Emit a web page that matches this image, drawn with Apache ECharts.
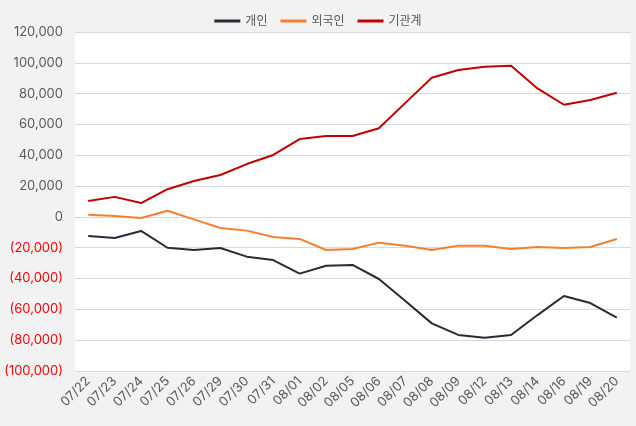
<!DOCTYPE html>
<html><head><meta charset="utf-8">
<script src="https://cdn.jsdelivr.net/npm/echarts@6/dist/echarts.min.js"></script>
<style>html,body{margin:0;padding:0;background:#f2f2f2;}#c{width:636px;height:426px;}</style>
</head><body><div id="c"></div>
<script>
var categories = ['07/22','07/23','07/24','07/25','07/26','07/29','07/30','07/31','08/01','08/02','08/05','08/06','08/07','08/08','08/09','08/12','08/13','08/14','08/16','08/19','08/20'];
var individual = [-12400,-13700,-9100,-20000,-21500,-20200,-25800,-28000,-36800,-31700,-31200,-40300,-54600,-69100,-76600,-78400,-76600,-63700,-51300,-55900,-65400];
var foreign = [1400,600,-700,4000,-1600,-7200,-8900,-13000,-14300,-21500,-20800,-16700,-18700,-21500,-18700,-18700,-20800,-19500,-20200,-19500,-14300];
var institution = [10300,13000,9000,18000,23300,27200,34300,40200,50500,52500,52500,57500,74000,90300,95300,97500,98100,83400,72800,75900,80600];
var seriesNames = ['개인','외국인','기관계'];
var yTicks = {min:-100000, max:120000, interval:20000};

var chart = echarts.init(document.getElementById('c'));
function fmt(v){
  var s = Math.abs(v).toString().replace(/\B(?=(\d{3})+(?!\d))/g, ',');
  return v < 0 ? '{neg|(' + s + ')}' : s;
}
var font = 'Inter, "Noto Sans CJK KR", sans-serif';
chart.setOption({
  backgroundColor: '#f2f2f2',
  animation: false,
  textStyle: {fontFamily: font},
  legend: {
    top: 10, left: 'center', itemWidth: 26, itemHeight: 3, itemGap: 13, icon: 'rect',
    textStyle: {color: '#595959', fontSize: 12, fontFamily: font},
    data: seriesNames
  },
  grid: {left: 75, right: 6, top: 32, bottom: 55, show: true, backgroundColor: '#ffffff', borderWidth: 0},
  xAxis: {
    type: 'category', data: categories, boundaryGap: true,
    axisLine: {show: true, lineStyle: {color: '#d9d9d9'}},
    axisTick: {show: false},
    axisLabel: {rotate: 45, color: '#595959', fontSize: 13, interval: 0, margin: 8, fontFamily: font}
  },
  yAxis: {
    type: 'value', min: yTicks.min, max: yTicks.max, interval: yTicks.interval,
    axisLine: {show: false}, axisTick: {show: false},
    splitLine: {lineStyle: {color: '#d9d9d9', width: 1}},
    axisLabel: {color: '#595959', fontSize: 13, margin: 12, formatter: fmt, fontFamily: font,
      rich: {neg: {color: '#ff0000', fontSize: 13, fontFamily: font}}}
  },
  series: [
    {name: seriesNames[0], type: 'line', data: individual, symbol: 'none', lineStyle: {width: 2, color: '#262b38'}, itemStyle: {color: '#262b38'}},
    {name: seriesNames[1], type: 'line', data: foreign, symbol: 'none', lineStyle: {width: 2, color: '#f4802e'}, itemStyle: {color: '#f4802e'}},
    {name: seriesNames[2], type: 'line', data: institution, symbol: 'none', lineStyle: {width: 2, color: '#c00000'}, itemStyle: {color: '#c00000'}}
  ]
});
</script></body></html>
